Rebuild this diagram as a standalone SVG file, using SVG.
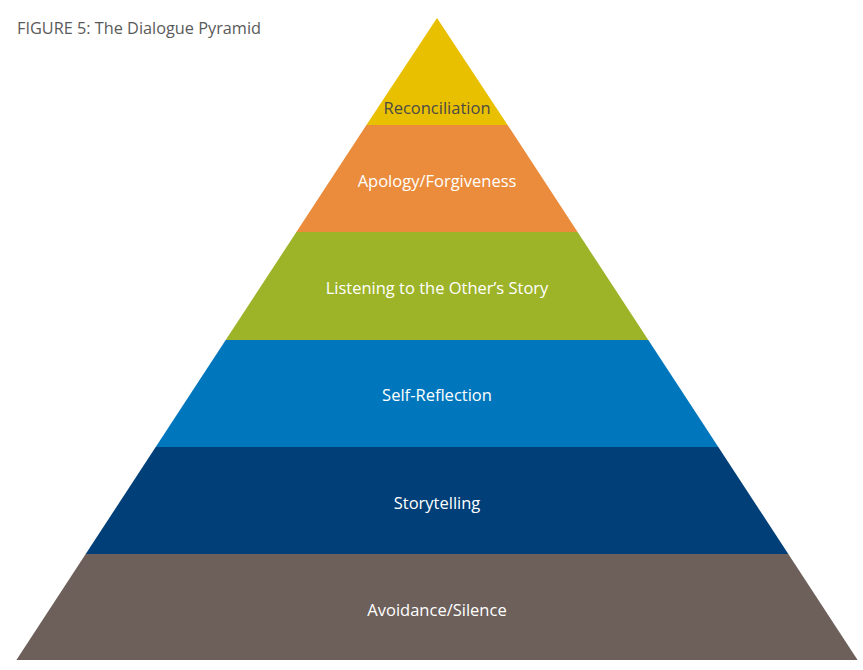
<svg xmlns="http://www.w3.org/2000/svg" width="863" height="670" viewBox="0 0 863 670">
<style>
.lbl{font-family:"Open Sans",Lato,"Liberation Sans",sans-serif;font-size:16.5px;text-anchor:middle;fill:#ffffff}
.dark{fill:#4d4a44}
.title{font-family:"Open Sans",Lato,"Liberation Sans",sans-serif;font-size:16.3px;fill:#5a5a5a}
</style>
<rect width="863" height="670" fill="#ffffff"/>
<text class="title" x="17" y="34">FIGURE 5: The Dialogue Pyramid</text>
<g id="layer-reconciliation">
<polygon points="437,18 366.4,125 507.6,125" fill="#e8c000"/>
<text class="lbl dark" x="437" y="114">Reconciliation</text>
</g>
<g id="layer-apology">
<polygon points="366.4,125 507.6,125 577.6,232 296.4,232" fill="#ea8c3b"/>
<text class="lbl" x="437" y="187">Apology/Forgiveness</text>
</g>
<g id="layer-listening">
<polygon points="296.4,232 577.6,232 648.3,340 225.7,340" fill="#9db328"/>
<text class="lbl" x="437" y="294">Listening to the Other’s Story</text>
</g>
<g id="layer-selfreflection">
<polygon points="225.7,340 648.3,340 718.3,447 155.7,447" fill="#0077bd"/>
<text class="lbl" x="437" y="401">Self-Reflection</text>
</g>
<g id="layer-storytelling">
<polygon points="155.7,447 718.3,447 788.3,554 85.7,554" fill="#003f78"/>
<text class="lbl" x="437" y="509">Storytelling</text>
</g>
<g id="layer-avoidance">
<polygon points="85.7,554 788.3,554 857.6,660 16.4,660" fill="#6d605b"/>
<text class="lbl" x="437" y="616">Avoidance/Silence</text>
</g>
<g id="connectors"></g>
</svg>
